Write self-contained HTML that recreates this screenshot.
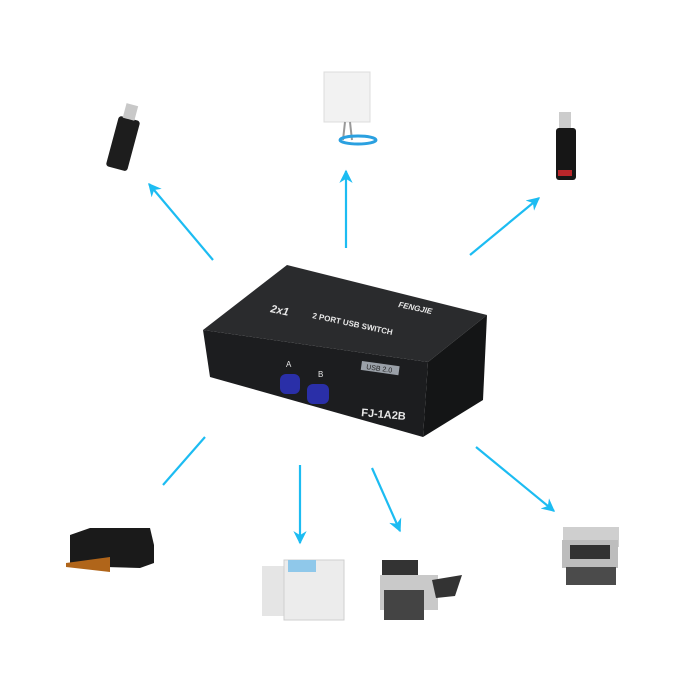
<!DOCTYPE html>
<html><head><style>html,body{margin:0;padding:0;background:#fff}svg{display:block}</style></head>
<body>
<svg width="700" height="700" viewBox="0 0 700 700" xmlns="http://www.w3.org/2000/svg">
<defs>
<marker id="ah" viewBox="0 0 10 10" refX="9" refY="5" markerWidth="6" markerHeight="6" orient="auto"><path d="M0,0 L10,5 L0,10 L3,5 Z" fill="#1cbcf2"/></marker>
</defs>
<g stroke="#1cbcf2" stroke-width="2.2" fill="none">
<line x1="213" y1="260" x2="149" y2="184" marker-end="url(#ah)"/>
<line x1="346" y1="248" x2="346" y2="171" marker-end="url(#ah)"/>
<line x1="470" y1="255" x2="539" y2="198" marker-end="url(#ah)"/>
<line x1="205" y1="437" x2="163" y2="485"/>
<line x1="300" y1="465" x2="300" y2="543" marker-end="url(#ah)"/>
<line x1="372" y1="468" x2="400" y2="531" marker-end="url(#ah)"/>
<line x1="476" y1="447" x2="554" y2="511" marker-end="url(#ah)"/>
</g>
<!-- switch box -->
<polygon points="203,330 287,265 487,315 428,362" fill="#2a2b2d"/>
<polygon points="203,330 428,362 423,437 210,377" fill="#1c1d1f"/>
<polygon points="428,362 487,315 483,400 423,437" fill="#141516"/>
<g font-family="Liberation Sans, sans-serif" fill="#e8e8e8" font-weight="bold">
<text x="270" y="312" font-size="11" transform="rotate(12 270 312)" font-style="italic">2x1</text>
<text x="312" y="318" font-size="8" transform="rotate(12 312 318)">2 PORT USB SWITCH</text>
<text x="398" y="307" font-size="8" transform="rotate(12 398 307)" font-style="italic">FENGJIE</text>
<text x="286" y="367" font-size="8" font-weight="normal">A</text>
<text x="318" y="377" font-size="8" font-weight="normal">B</text>
<text x="361" y="416" font-size="11" transform="rotate(5 361 416)">FJ-1A2B</text>
</g>
<rect x="362" y="361" width="38" height="9" fill="#9aa0a8" transform="rotate(8 362 361)"/>
<text x="366" y="369" font-size="7" font-family="Liberation Sans, sans-serif" fill="#222" transform="rotate(8 366 369)">USB 2.0</text>
<rect x="280" y="374" width="20" height="20" rx="6" fill="#2a2fa8"/>
<rect x="307" y="384" width="22" height="20" rx="6" fill="#2a2fa8"/>
<!-- usb stick top-left -->
<g transform="rotate(15 125 140)"><rect x="113" y="118" width="22" height="52" rx="3" fill="#1d1d1d"/><rect x="117" y="104" width="12" height="15" fill="#c8c8c8"/></g>
<!-- antenna top -->
<rect x="324" y="72" width="46" height="50" fill="#f2f2f2" stroke="#dcdcdc"/>
<path d="M345,122 L343,140 M350,122 L352,140" stroke="#999" stroke-width="2"/>
<ellipse cx="358" cy="140" rx="18" ry="4" fill="none" stroke="#2aa0e0" stroke-width="3"/>
<!-- usb stick top-right -->
<rect x="559" y="112" width="12" height="16" fill="#ccc"/>
<rect x="556" y="128" width="20" height="52" rx="3" fill="#161616"/>
<rect x="558" y="170" width="14" height="6" fill="#b8262a"/>
<!-- inkjet printer -->
<polygon points="70,535 90,528 150,528 154,545 154,563 140,568 70,566" fill="#1a1a1a"/>
<polygon points="66,563 110,557 110,572 66,567" fill="#b0651a"/>
<!-- copier -->
<rect x="262" y="566" width="22" height="50" fill="#e5e5e5"/>
<rect x="284" y="560" width="60" height="60" fill="#ececec" stroke="#cfcfcf"/>
<rect x="288" y="560" width="28" height="12" fill="#8fc8ea"/>
<!-- laser printer -->
<rect x="382" y="560" width="36" height="20" fill="#333"/>
<rect x="380" y="575" width="58" height="35" fill="#c9c9c9"/>
<rect x="384" y="590" width="40" height="30" fill="#444"/>
<path d="M432,580 L462,575 L455,596 L436,598 Z" fill="#333"/>
<!-- mfp -->
<rect x="563" y="527" width="56" height="20" fill="#cfcfcf"/>
<rect x="562" y="540" width="56" height="28" fill="#bdbdbd"/>
<rect x="570" y="545" width="40" height="14" fill="#333"/>
<rect x="566" y="567" width="50" height="18" fill="#4b4b4b"/>
</svg>
</body></html>
